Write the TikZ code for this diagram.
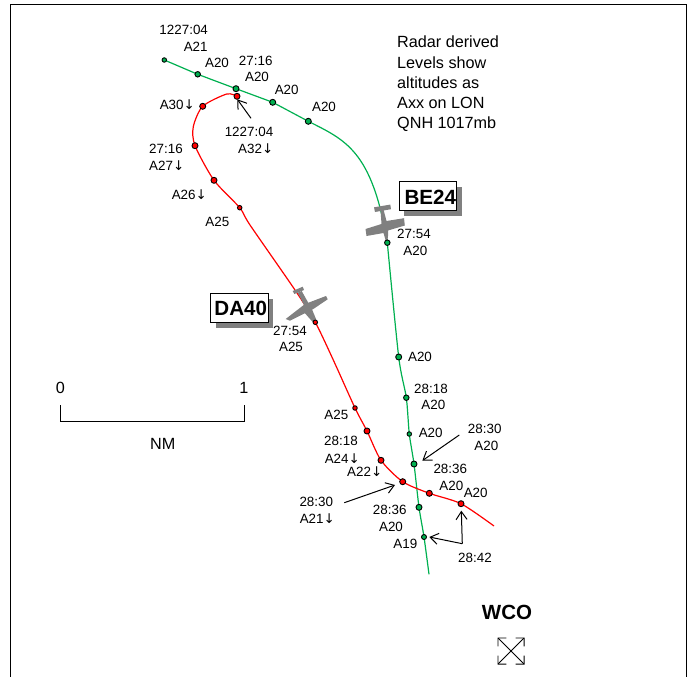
\documentclass[tikz,border=0pt]{standalone}
\usepackage{fontspec}
\setmainfont{Liberation Sans}
\newfontfamily\arrowfont{DejaVu Sans}
\newcommand{\dnarrow}{{\arrowfont ↓}}
\usetikzlibrary{arrows.meta,shadows}
\tikzset{
  lbl/.style={inner sep=0pt,font=\fontsize{13.4}{16}\selectfont},
  biglbl/.style={inner sep=0pt,font=\fontsize{16.2}{18}\selectfont},
  pdot/.style={circle,draw=black,line width=.9pt,inner sep=0pt,minimum size=#1},
  gdot/.style={pdot=#1,fill=trackgreen},
  rdot/.style={pdot=#1,fill=red},
  trk/.style={line width=1.2pt,line join=round},
  leader/.style={line width=1pt,-{Straight Barb[length=8pt,width=11pt,line width=1pt]}},
  callsign/.style={draw=black,line width=.9pt,fill=white,inner sep=0pt,minimum width=57.5pt,minimum height=29pt,
    drop shadow={shadow xshift=5.5pt,shadow yshift=-5.5pt,fill=planegray,opacity=1}},
  plane/.style={fill=planegray,draw=none},
}
\definecolor{trackgreen}{RGB}{0,176,80}
\definecolor{planegray}{RGB}{128,128,128}
\begin{document}
\begin{tikzpicture}[x=1pt,y=-1pt]
\useasboundingbox (0,0) rectangle (688,677);
% frame
\coordinate (fa) at (10.7,677); \coordinate (fb) at (10.7,4.3);
\coordinate (fc) at (686.5,4.3); \coordinate (fd) at (686.5,677);
\draw[line width=1pt] (fa) -- (fb) -- (fc) -- (fd);
% tracks
\foreach \n/\x/\y in {G1/164.3/60,G2/197.7/74.3,G3/236/88.7,G4/272.7/102.3,G5/308.3/121.3,
  Ga/345/140,Gb/372/150,G6/387.3/242.7,G7/398.7/357,G8/406.3/397.7,G9/409.3/434,
  G10/414/464,G11/419/507.3,G12/424/537,Ge/429/574.3,
  R1/237/96.3,Ra/226.7/94,R2/202.7/106.3,Rb/193.3/126.7,R3/195/145.7,R4/214/180.3,R5/239.7/207.7,
  Rc/250/225,Rd/295/290,R6/315.3/322.3,Re/333.3/360,R7/355/408,R8/367/431,R9/381/460.3,
  R10/402.7/481.7,R11/429.3/493.3,R12/461/503.7,Rf/494/526}
  {\coordinate (\n) at (\x,\y);}
\draw[trk,trackgreen] (G1) -- (G2) -- (G3) -- (G4) -- (G5) .. controls (Ga) and (Gb) .. (G6);
\draw[trk,trackgreen] plot[smooth,tension=.45] coordinates {(G6)(G7)(G8)(G9)(G10)(G11)(G12)(Ge)};
\draw[trk,red] plot[smooth,tension=.45] coordinates {(R1)(Ra)(R2)(Rb)(R3)(R4)(R5)(Rc)(Rd)(R6)(Re)(R7)(R8)(R9)(R10)(R11)(R12)(Rf)};
% BE24 aircraft
\fill[plane] (374,207.3) -- (390.3,204.6) -- (391,209.2) -- (375,212) -- cycle;
\fill[plane] (380.5,210) -- (383.5,209.5) -- (386.5,221) -- (404,218.2) -- (404.8,225.5) -- (388,230.5) -- (388,236) -- (387.5,240) -- (385.5,240) -- (383.5,233) -- (366.5,236) -- (365.5,229) -- (381.5,224) -- cycle;
% DA40 aircraft
\fill[plane] (292.7,291) -- (302.7,286.7) -- (304,290) -- (294.3,294) -- cycle;
\fill[plane] (297.7,292.7) -- (301.7,291) -- (312.3,310) -- (316.7,320.7) -- (313.3,322.7) -- (305,313.3) -- (304,305) -- cycle;
\fill[plane] (285.7,319) -- (305,304) -- (326,296) -- (327.7,299.3) -- (313.3,309) -- (290,320.7) -- cycle;
% track dots
\foreach \n/\s in {G1/4.5,G2/5.5,G3/6,G4/6,G5/6,G6/5.5,G7/6,G8/5.5,G9/4.5,G10/6,G11/6,G12/5}
  {\node[gdot=\s] (d\n) at (\n) {};}
\foreach \n/\s in {R1/6,R2/6,R3/6,R4/6,R5/4.5,R6/4.5,R7/4.5,R8/6,R9/6,R10/6,R11/6,R12/6}
  {\node[rdot=\s] (d\n) at (\n) {};}
% leaders
\coordinate (la) at (251,118.3);
\coordinate (lb) at (459.3,435);
\coordinate (lc) at (344.3,502.7);
\coordinate (ld) at (462.3,543.7);
\coordinate (lat) at (237.3,99.3);
\coordinate (lbt) at (422.3,460.7);
\coordinate (lct) at (395,485);
\coordinate (ldt) at (461.3,510.7);
\coordinate (let) at (429.3,537);
\draw[leader] (la) -- (lat);
\draw[leader] (lb) -- (lbt);
\draw[leader] (lc) -- (lct);
\draw[leader] (ld) -- (ldt);
\draw[leader] (ld) -- (let);
% labels
\foreach \n/\x/\y/\t in {a1/183.7/30/1227:04,a2/195.7/47.3/A21,a3/217/63.3/A20,a4/255.7/61.3/27:16,a5/257/77.3/A20,
 a6/286.7/90.3/A20,a7/324/107/A20,a8/177.3/104.3/A30\dnarrow,a9/249/132.3/1227:04,a10/255.7/148.3/A32\dnarrow,
 a11/166/149.3/27:16,a12/166.7/165.3/A27\dnarrow,a13/189.3/195/A26\dnarrow,a14/217.3/222/A25,
 b1/414/234.3/27:54,b2/415.3/251.3/A20,b3/290/331.3/27:54,b4/291/347.3/A25,b5/420/356.7/A20,
 c1/336.3/415/A25,c2/341/441.3/28:18,c3/342.3/458.3/A24\dnarrow,c4/364.7/471.7/A22\dnarrow,c5/431/389/28:18,c6/433.3/405/A20,
 c7/430.7/433.3/A20,c8/484.7/429.3/28:30,c9/486.3/446.3/A20,c10/450.3/469.3/28:36,c11/451.3/485.7/A20,
 c12/475.7/493.3/A20,c13/389.7/510.3/28:36,c14/391/527.3/A20,c15/405.3/544/A19,c16/475/558.3/28:42,
 c17/316.3/502.3/28:30,c18/317.3/519/A21\dnarrow}
 {\node[lbl] (\n) at (\x,\y) {\t};}
\foreach \n/\x/\y/\t in {s1/60.3/387.7/0,s2/244/387.7/1,s3/162.7/443.7/NM}
 {\node[biglbl] (\n) at (\x,\y) {\t};}
% radar note
\foreach \n/\y/\t in {n1/42/Radar derived,n2/62.3/Levels show,n3/82.7/altitudes as,n4/103/Axx on LON,n5/124/QNH 1017mb}
 {\node[biglbl,anchor=west] (\n) at (397,\y) {\t};}
% callsigns
\node[callsign] (be24) at (427.7,196.2) {};
\node[callsign] (da40) at (239.2,308.2) {};
\node[inner sep=0pt,font=\fontsize{20.6}{22}\selectfont\bfseries] (be24t) at (430.3,196.9) {BE24};
\node[inner sep=0pt,font=\fontsize{20.6}{22}\selectfont\bfseries] (da40t) at (240.8,308.2) {DA40};
% scale
\coordinate (sa) at (60.3,405); \coordinate (sb) at (60.3,421.7);
\coordinate (sc) at (244.7,421.7); \coordinate (sd) at (244.7,405);
\draw[line width=1pt] (sa) -- (sb) -- (sc) -- (sd);
% WCO
\node[inner sep=0pt,font=\fontsize{20.5}{22}\selectfont\bfseries] (wco) at (507,612) {WCO};
\coordinate (x1) at (497.5,637.5); \coordinate (x2) at (524.5,664.5);
\coordinate (x3) at (524.5,637.5); \coordinate (x4) at (497.5,664.5);
\draw[line width=.8pt,{Straight Barb[length=6pt,width=9pt,line width=.8pt,angle'=90]}-{Straight Barb[length=6pt,width=9pt,line width=.8pt,angle'=90]}] (x1) -- (x2);
\draw[line width=.8pt,{Straight Barb[length=6pt,width=9pt,line width=.8pt,angle'=90]}-{Straight Barb[length=6pt,width=9pt,line width=.8pt,angle'=90]}] (x3) -- (x4);
\end{tikzpicture}
\end{document}
